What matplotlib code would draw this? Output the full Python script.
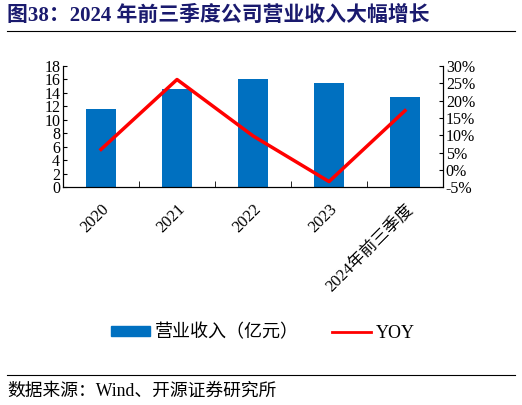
import matplotlib
matplotlib.use("Agg")
import matplotlib.pyplot as plt
import numpy as np
from matplotlib.lines import Line2D
from matplotlib.patches import Patch

plt.rcParams['font.family'] = ['Liberation Serif', 'Noto Sans CJK SC', 'DejaVu Sans']

# donnees
categories = ["2020", "2021", "2022", "2023", "2024年前三季度"]
revenue = [11.55, 14.6, 16.05, 15.5, 13.35]   # 亿元
yoy = [5.9, 26.1, 9.8, -3.4, 17.1]            # %
left_ticks = [0, 2, 4, 6, 8, 10, 12, 14, 16, 18]
right_ticks = [-5, 0, 5, 10, 15, 20, 25, 30]

blue = "#0070C0"
red = "#FF0000"
fam = ['Liberation Serif', 'Noto Sans CJK SC']

fig = plt.figure(figsize=(5.22, 4.05), dpi=100)
ax = fig.add_axes([0.1207, 0.538, 0.728, 0.299])
x = np.arange(len(categories))
ax.bar(x, revenue, width=0.4, color=blue)
ax.set_xlim(-0.5, len(categories) - 0.5)
ax.set_ylim(0, 18)
ax.set_yticks(left_ticks)
ax.set_yticklabels([str(v) for v in left_ticks], fontsize=11.5)
ax.set_xticks(x)
ax.set_xticklabels(categories, rotation=45, ha='right', va='top',
                   rotation_mode='anchor', fontsize=12)
ax.set_xticks(np.arange(0.5, len(categories) - 0.5), minor=True)
ax.tick_params(axis='x', which='major', length=0, pad=10)
ax.tick_params(axis='x', which='minor', direction='in', length=4)
ax.tick_params(axis='y', direction='in', length=3, pad=2)
for lab in ax.get_xticklabels():
    lab.set_family(fam)
ax.spines['top'].set_visible(False)

ax2 = ax.twinx()
ax2.plot(x, yoy, color=red, linewidth=2.5)
ax2.set_ylim(-5, 30)
ax2.set_yticks(right_ticks)
ax2.set_yticklabels([f"{v}%" for v in right_ticks], fontsize=11.5)
ax2.tick_params(axis='y', direction='in', length=3, pad=2)
ax2.spines['top'].set_visible(False)

# legende
handles = [Patch(color=blue), Line2D([0], [0], color=red, linewidth=2)]
fig.legend(handles, ["营业收入（亿元）", "YOY"], loc='center',
           bbox_to_anchor=(0.504, 1 - 333 / 405), ncol=2, frameon=False,
           prop={'family': fam, 'size': 13},
           handlelength=2.15, handleheight=0.5, columnspacing=1.8, handletextpad=0.3)

# titre et source
fig.text(7 / 522, 1 - 16 / 405, "图38：2024 年前三季度公司营业收入大幅增长",
         family=fam, fontsize=15, fontweight='bold', color="#1A1A6E",
         va='center', ha='left')
fig.add_artist(Line2D([7 / 522, 515 / 522], [1 - 31 / 405, 1 - 31 / 405],
                      color='black', linewidth=0.8))
fig.add_artist(Line2D([7 / 522, 515 / 522], [1 - 375 / 405, 1 - 375 / 405],
                      color='black', linewidth=0.8))
fig.text(7 / 522, 1 - 391 / 405, "数据来源：Wind、开源证券研究所",
         family=fam, fontsize=12.8, va='center', ha='left')

fig.savefig("out.png", dpi=100)
